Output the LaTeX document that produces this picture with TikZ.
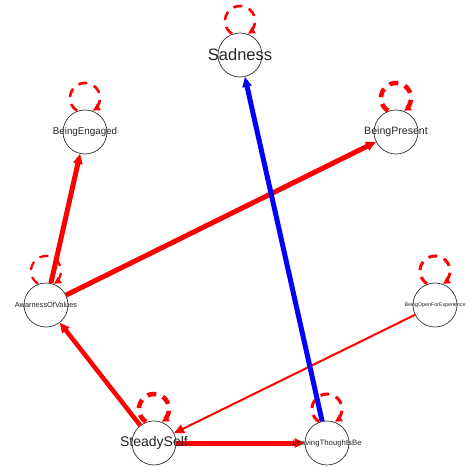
\documentclass[tikz,border=0pt]{standalone}
\usepackage{fontspec}
\setmainfont{Liberation Sans}
\usetikzlibrary{arrows.meta}
\definecolor{qred}{RGB}{255,0,0}
\definecolor{qblue}{RGB}{0,0,255}
\tikzset{
  vtx/.style={circle,draw=black!80,line width=0.7pt,fill=white,minimum size=44pt,inner sep=0pt},
  lbl/.style={inner sep=0pt,text=black!85},
  redge/.style={draw=qred,line width=#1,-{Triangle[length=10pt,width=9pt]}},
  bedge/.style={draw=qblue,line width=#1,-{Triangle[length=10pt,width=9pt]}},
  selfloop/.style={draw=qred,line width=#1,dash pattern=on 9pt off 7pt,-{Triangle[length=7pt,width=7pt]}}
}
\begin{document}
\begin{tikzpicture}[x=1pt,y=1pt]
\useasboundingbox[fill=white] (0,0) rectangle (468,466);
% nodes
\node[vtx] (sad) at (240,411) {};
\node[vtx] (eng) at (85,334) {};
\node[vtx] (pre) at (396,334) {};
\node[vtx] (awa) at (46,161) {};
\node[vtx] (ope) at (435,161) {};
\node[vtx] (ste) at (154,23) {};
\node[vtx] (lea) at (327,23) {};
% self loops
\draw[selfloop=2.6pt] ([shift={(0,34)}]sad.center) ++(238:15) arc[start angle=238,end angle=-58,radius=15];
\draw[selfloop=2.6pt] ([shift={(0,34)}]eng.center) ++(238:15) arc[start angle=238,end angle=-58,radius=15];
\draw[selfloop=4.5pt] ([shift={(0,34)}]pre.center) ++(238:15) arc[start angle=238,end angle=-58,radius=15];
\draw[selfloop=2.2pt] ([shift={(0,34)}]awa.center) ++(238:15) arc[start angle=238,end angle=-58,radius=15];
\draw[selfloop=3pt] ([shift={(0,34)}]ope.center) ++(238:15) arc[start angle=238,end angle=-58,radius=15];
\draw[selfloop=4.5pt] ([shift={(0,34)}]ste.center) ++(238:15) arc[start angle=238,end angle=-58,radius=15];
\draw[selfloop=3pt] ([shift={(0,34)}]lea.center) ++(238:15) arc[start angle=238,end angle=-58,radius=15];
% edges
\draw[redge=5pt] (awa) -- (eng);
\draw[redge=5pt] (awa) -- (pre);
\draw[redge=4.5pt] (ste) -- (awa);
\draw[redge=2pt] (ope) -- (ste);
\draw[redge=5pt] (ste) -- (lea);
\draw[bedge=5pt] (lea) -- (sad);
% labels
\node[lbl,font=\fontsize{16.5}{18}\selectfont] (sadl) at (sad) {Sadness};
\node[lbl,font=\fontsize{9.8}{11}\selectfont] (engl) at (eng) {BeingEngaged};
\node[lbl,font=\fontsize{10.6}{12}\selectfont] (prel) at (pre) {BeingPresent};
\node[lbl,font=\fontsize{7.4}{8}\selectfont] (awal) at (awa) {AwarnessOfValues};
\node[lbl,font=\fontsize{5.3}{6}\selectfont] (opel) at (ope) {BeingOpenForExperience};
\node[lbl,font=\fontsize{14}{16}\selectfont] (stel) at (ste) {SteadySelf};
\node[lbl,font=\fontsize{7.8}{9}\selectfont] (leal) at (lea) {LeavingThoughtsBe};
\end{tikzpicture}
\end{document}
